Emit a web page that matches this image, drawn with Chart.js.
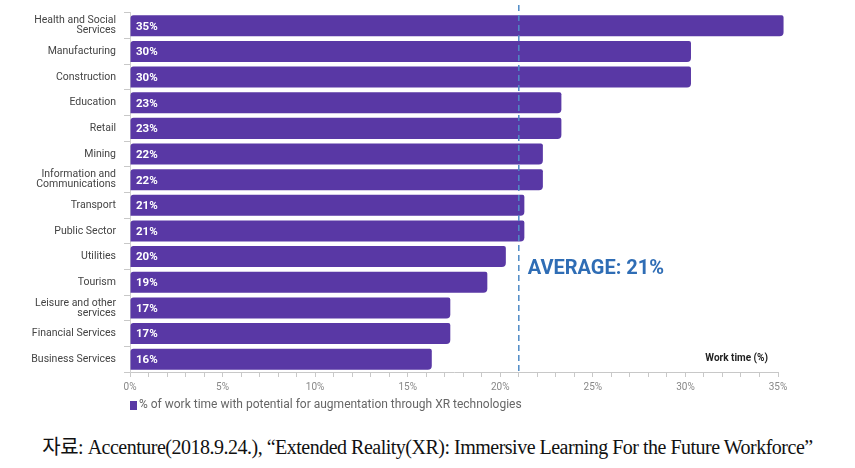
<!DOCTYPE html>
<html lang="ko">
<head>
    <meta charset="UTF-8">
    <title>XR Work Time by Industry</title>
    <script src="https://cdn.jsdelivr.net/npm/chart.js"></script>
    <style>
        html, body { margin: 0; padding: 0; background: #fff; }
        .wrap { width: 855px; height: 468px; position: relative; overflow: hidden; }
        #chart { display: block; }
        .source {
            position: absolute; left: 0; top: 420px; width: 855px; height: 48px;
            text-align: center; line-height: 46px; padding-top: 4px; box-sizing: border-box;
            font-family: "Liberation Serif", "Noto Sans CJK KR", serif;
            font-size: 20px; color: #111; letter-spacing: -0.5px; white-space: nowrap;
        }
    </style>
</head>
<body>
<div class="wrap">
    <canvas id="chart" width="855" height="420"></canvas>
    <div class="source">자료: Accenture(2018.9.24.), “Extended Reality(XR): Immersive Learning For the Future Workforce”</div>
</div>

<script>
// data
const categories = [
    ['Health and Social', 'Services'],
    'Manufacturing',
    'Construction',
    'Education',
    'Retail',
    'Mining',
    ['Information and', 'Communications'],
    'Transport',
    'Public Sector',
    'Utilities',
    'Tourism',
    ['Leisure and other', 'services'],
    'Financial Services',
    'Business Services'
];
const values = [35.3, 30.3, 30.3, 23.3, 23.3, 22.3, 22.3, 21.3, 21.3, 20.3, 19.3, 17.3, 17.3, 16.3];
const valueLabels = ['35%', '30%', '30%', '23%', '23%', '22%', '22%', '21%', '21%', '20%', '19%', '17%', '17%', '16%'];
const average = 21;
const averageLabel = 'AVERAGE: 21%';
const seriesLabel = '% of work time with potential for augmentation through XR technologies';
const axisTitle = 'Work time (%)';

const purple = '#5938a5';

// labels in bars, average line, axis title and legend
const overlay = {
    id: 'overlay',
    afterDatasetsDraw(chart) {
        const ctx = chart.ctx;
        const area = chart.chartArea;
        const x = chart.scales.x;
        const y = chart.scales.y;
        const meta = chart.getDatasetMeta(0);

        ctx.save();
        ctx.font = 'bold 11.5px Roboto';
        ctx.fillStyle = '#fff';
        ctx.textAlign = 'left';
        ctx.textBaseline = 'middle';
        meta.data.forEach((bar, i) => {
            ctx.fillText(valueLabels[i], x.getPixelForValue(0) + 6, bar.y + 1);
        });

        // average line
        const ax = x.getPixelForValue(average);
        ctx.strokeStyle = '#4f8ac6';
        ctx.lineWidth = 1.5;
        ctx.setLineDash([6, 4]);
        ctx.beginPath();
        ctx.moveTo(ax, area.top - 8);
        ctx.lineTo(ax, area.bottom);
        ctx.stroke();
        ctx.setLineDash([]);

        ctx.font = 'bold 20px Roboto';
        ctx.fillStyle = '#2f6db5';
        ctx.fillText(averageLabel, ax + 9, (y.getPixelForValue(9) + y.getPixelForValue(10)) / 2);

        ctx.font = 'bold 10px Roboto';
        ctx.fillStyle = '#222';
        ctx.textAlign = 'right';
        ctx.fillText(axisTitle, area.right - 10, area.bottom - 14);

        // legend
        const ly = area.bottom + 33;
        ctx.fillStyle = purple;
        ctx.fillRect(area.left, ly - 4, 7, 9);
        ctx.font = '12px Roboto';
        ctx.fillStyle = '#666';
        ctx.textAlign = 'left';
        ctx.fillText(seriesLabel, area.left + 9, ly);
        ctx.restore();
    }
};

new Chart(document.getElementById('chart'), {
    type: 'bar',
    data: {
        labels: categories,
        datasets: [{
            label: seriesLabel,
            data: values,
            backgroundColor: purple,
            borderWidth: 0,
            borderSkipped: false,
            borderRadius: { topLeft: 3, topRight: 2, bottomRight: 4, bottomLeft: 0 },
            barPercentage: 0.82,
            categoryPercentage: 1,
            clip: false
        }]
    },
    options: {
        indexAxis: 'y',
        responsive: false,
        devicePixelRatio: 1,
        animation: false,
        layout: { padding: { top: 12, right: 77, left: 0, bottom: 0 } },
        plugins: {
            legend: { display: false },
            tooltip: { enabled: false }
        },
        scales: {
            x: {
                min: 0,
                max: 35,
                ticks: {
                    stepSize: 1,
                    autoSkip: false,
                    maxRotation: 0,
                    padding: 4,
                    color: '#888',
                    font: { family: 'Roboto', size: 10 },
                    callback: v => (v % 5 === 0 ? v + '%' : '')
                },
                grid: {
                    drawOnChartArea: false,
                    drawTicks: true,
                    tickLength: 5,
                    color: '#c8c8c8'
                },
                border: { color: '#c8c8c8' },
                afterFit: s => { s.height = 48; }
            },
            y: {
                ticks: {
                    color: '#444',
                    padding: 8,
                    font: { family: 'Roboto', size: 10.5, lineHeight: 0.95 }
                },
                grid: {
                    drawOnChartArea: false,
                    drawTicks: true,
                    tickLength: 6,
                    color: '#c8c8c8'
                },
                border: { color: '#d0d0d0' },
                afterFit: s => { s.width = 130; }
            }
        }
    },
    plugins: [overlay]
});
</script>
</body>
</html>
